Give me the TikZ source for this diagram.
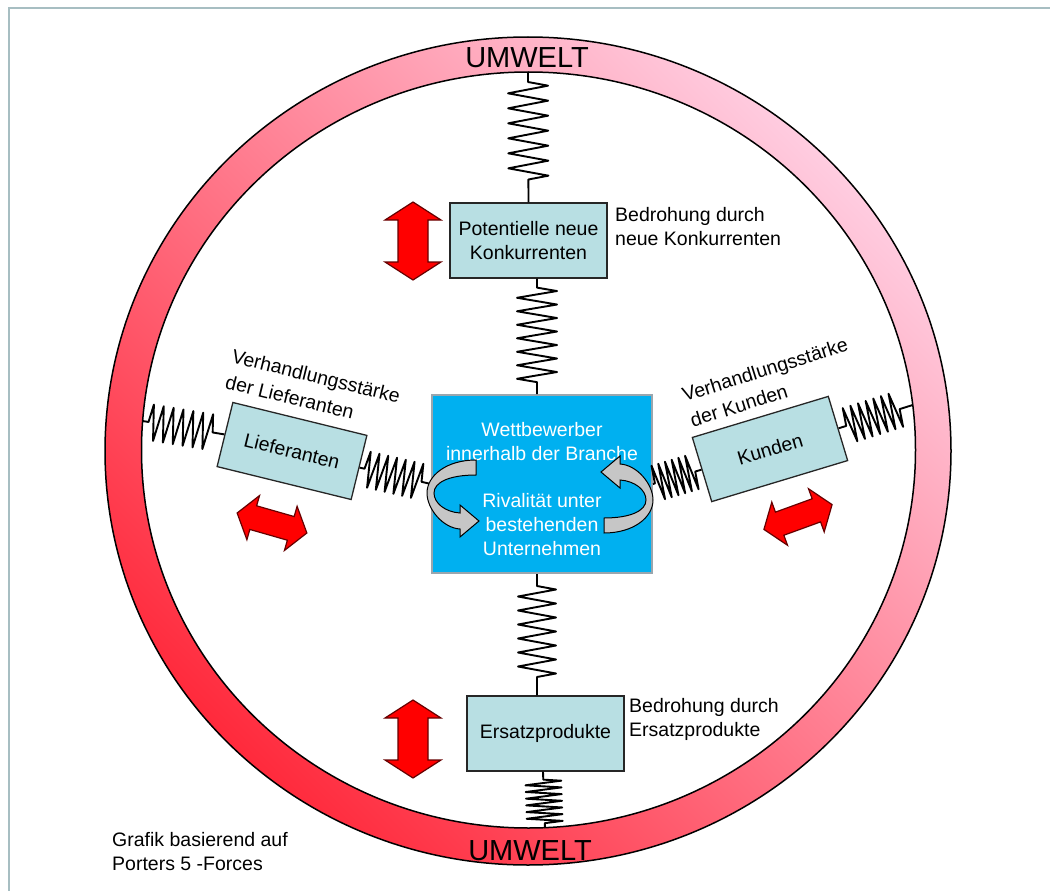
\documentclass[tikz,border=0pt]{standalone}
\usepackage{fontspec}
\setmainfont{Liberation Sans}
\usetikzlibrary{decorations.pathmorphing,calc}
\definecolor{boxteal}{HTML}{B8DFE3}
\definecolor{rivalblue}{HTML}{00B0F0}
\definecolor{rivalborder}{HTML}{9AA6AE}
\definecolor{framecol}{HTML}{A7BEC2}
\definecolor{ringred}{HTML}{FF2A3C}
\definecolor{ringpink}{HTML}{FFCCE0}
\definecolor{arrowred}{HTML}{FF0000}
\tikzset{
  txt/.style={font=\fontsize{19.5}{24}\selectfont},
  lbl/.style={txt, align=left, inner sep=0pt},
  rlbl/.style={font=\fontsize{19.5}{26.5}\selectfont, align=left, inner sep=0pt},
  forcebox/.style={txt, draw=black!85, line width=1.3pt, fill=boxteal, align=center,
    minimum width=#1, minimum height=66pt, inner sep=2pt},
  spr/.style n args={4}{decorate, decoration={zigzag, segment length=#1, amplitude=#2,
    pre length=#3, post length=#4}, line width=1.9pt, line join=round},
  dblarrow/.pic={\draw[fill=arrowred, draw=black!60!red, line width=1.2pt]
    (-39,0) -- (-21,-28) -- (-21,-15) -- (21,-15) -- (21,-28) -- (39,0)
    -- (21,28) -- (21,15) -- (-21,15) -- (-21,28) -- cycle;},
  curvarrow/.pic={\draw[fill=gray!45, draw=black, line width=1pt]
    (4,-33) .. controls (-26,-33) and (-45,-17) .. (-45,0)
    .. controls (-45,16) and (-29,35) .. (-12,36) -- (-12,44) -- (7,28) -- (-12,12) -- (-12,20)
    .. controls (-27,19) and (-38,10) .. (-38,0)
    .. controls (-38,-11) and (-22,-18) .. (4,-18) -- cycle;}
}
\begin{document}
\begin{tikzpicture}[x=1pt,y=-1pt]
\useasboundingbox (0,0) rectangle (1050,891);
% frame
\draw[framecol, line width=2pt] (9,891) -- (9,8) -- (1050,8);
% ring
\shade[even odd rule, top color=ringpink, bottom color=ringred, shading angle=-45]
  (528,451) ellipse [x radius=423pt, y radius=414pt]
  (528.5,450) ellipse [x radius=387pt, y radius=378pt];
\draw[line width=1.5pt] (528,451) ellipse [x radius=423pt, y radius=414pt];
\draw[line width=1.5pt] (528.5,450) ellipse [x radius=387pt, y radius=378pt];
\coordinate (rt) at (528,72);
\coordinate (rb) at (545,828);
\coordinate (rl) at (142.6,421);
\coordinate (rr) at (912.7,405);
\node[txt, font=\fontsize{29}{32}\selectfont, inner sep=0pt] (umtop) at (527,58) {UMWELT};
\node[txt, font=\fontsize{29}{32}\selectfont, inner sep=0pt] (umbot) at (530,851) {UMWELT};
% boxes
\node[forcebox=157pt, minimum height=75pt] (pot) at (528.5,240.5) {Potentielle neue\\Konkurrenten};
\node[forcebox=157pt, minimum height=75pt] (ers) at (545.5,733.5) {Ersatzprodukte};
\node[forcebox=138pt, rotate=-13.8] (lief) at (292,451) {Lieferanten};
\node[forcebox=142pt, minimum height=67pt, rotate=16.8] (kund) at (770,449) {Kunden};
\node[draw=rivalborder, line width=2pt, fill=rivalblue, minimum width=220pt, minimum height=178pt] (cen) at (542,484) {};
% springs
\draw[spr={15pt}{20pt}{10pt}{16pt}] (rt) -- (pot.north);
\draw[spr={13.5pt}{20pt}{9pt}{11pt}] ([xshift=8.5pt]pot.south) -- ([xshift=-5pt]cen.north);
\draw[spr={14pt}{19pt}{12pt}{13pt}] ([xshift=-5pt]cen.south) -- ([xshift=-8.5pt]ers.north);
\draw[spr={6.7pt}{18pt}{8pt}{3pt}] ([xshift=-2.5pt]ers.south) -- (rb);
\draw[spr={10pt}{18pt}{6pt}{8pt}] (rl) -- (lief.west);
\draw[spr={9pt}{18pt}{5pt}{8pt}] (lief.east) -- (cen.west);
\draw[spr={7pt}{18pt}{2pt}{6pt}] (cen.east) -- (kund.west);
\draw[spr={8pt}{18pt}{8pt}{12pt}] (kund.east) -- (rr);
% centre texts and curved arrows
\node[txt, text=white, align=center, inner sep=0pt] (wett) at (542,442) {Wettbewerber\\innerhalb der Branche};
\node[txt, text=white, align=center, inner sep=0pt] (riv) at (542,525) {Rivalität unter\\bestehenden\\Unternehmen};
\pic at (472,493) {curvarrow};
\pic[rotate=180] at (608,500) {curvarrow};
% red double arrows
\pic[rotate=90] at (413,241) {dblarrow};
\pic[rotate=90] at (413,739) {dblarrow};
\pic[rotate=-16, xscale=.93, yscale=.82] at (272,523) {dblarrow};
\pic[rotate=20, xscale=.93, yscale=.82] at (798,517) {dblarrow};
% labels
\node[lbl, anchor=west] (bedk) at (615,227) {Bedrohung durch\\neue Konkurrenten};
\node[lbl, anchor=west] (bede) at (629,719) {Bedrohung durch\\Ersatzprodukte};
\node[rlbl, rotate=-13.8] (vl) at (313,389) {Verhandlungsstärke\\der Lieferanten};
\node[rlbl, rotate=17.5] (vk) at (769,382) {Verhandlungsstärke\\der Kunden};
\node[lbl, anchor=west] (src) at (112,852) {Grafik basierend auf\\Porters 5 -Forces};
\end{tikzpicture}
\end{document}
